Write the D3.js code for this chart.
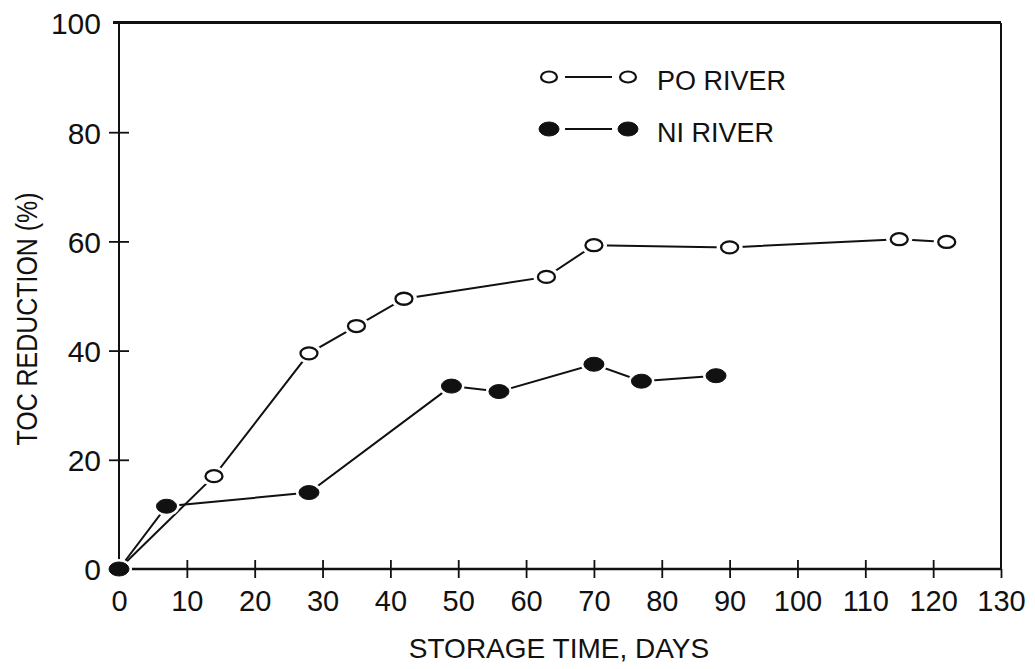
<!DOCTYPE html>
<html>
<head>
<meta charset="utf-8">
<script src="https://cdn.jsdelivr.net/npm/d3@7"></script>
<style>
  html, body { margin: 0; padding: 0; background: #fff; }
  svg { display: block; }
  text { font-family: "Liberation Sans", Arial, sans-serif; fill: #111; }
</style>
</head>
<body>
<svg id="chart" width="1035" height="669"></svg>
<script>
// ---- data ----
const poDays = [0, 14, 28, 35, 42, 63, 70, 90, 115, 122];
const poToc  = [0, 17, 39.5, 44.5, 49.5, 53.5, 59.3, 58.9, 60.4, 59.9];
const niDays = [0, 7, 28, 49, 56, 70, 77, 88];
const niToc  = [0, 11.5, 14, 33.5, 32.5, 37.5, 34.4, 35.4];
const xTicks = [0, 10, 20, 30, 40, 50, 60, 70, 80, 90, 100, 110, 120, 130];
const yTicks = [0, 20, 40, 60, 80, 100];
const seriesNames = ["PO RIVER", "NI RIVER"];
const xTitle = "STORAGE TIME, DAYS";
const yTitle = "TOC REDUCTION (%)";

// ---- layout ----
const L = 119, R = 1001, T = 23, B = 569;
const svg = d3.select("#chart");
const x = d3.scaleLinear().domain([0, 130]).range([L, R]);
const y = d3.scaleLinear().domain([0, 100]).range([B, T]);
const ink = "#111";

// frame
svg.append("line").attr("x1", L - 6).attr("x2", R).attr("y1", T - 0.5).attr("y2", T - 0.5)
  .attr("stroke", ink).attr("stroke-width", 2.8);
svg.append("line").attr("x1", R).attr("x2", R).attr("y1", T).attr("y2", B)
  .attr("stroke", ink).attr("stroke-width", 2);
svg.append("line").attr("x1", L).attr("x2", L).attr("y1", T).attr("y2", B)
  .attr("stroke", ink).attr("stroke-width", 2);
svg.append("line").attr("x1", L).attr("x2", R).attr("y1", B).attr("y2", B)
  .attr("stroke", ink).attr("stroke-width", 2.4);

// x axis
const gx = svg.append("g").attr("transform", `translate(0,${B})`)
  .call(d3.axisBottom(x).tickValues(xTicks).tickSize(9).tickFormat(d3.format("d")));
gx.select(".domain").remove();
gx.selectAll(".tick line").attr("stroke", ink).attr("stroke-width", 1.8)
  .attr("y1", d => d === 130 ? 0 : -9).attr("y2", 9);
gx.selectAll(".tick text").attr("y", 21).attr("dy", "0.71em")
  .style("font-size", "29px").attr("fill", ink);

// y axis
const gy = svg.append("g").attr("transform", `translate(${L},0)`)
  .call(d3.axisLeft(y).tickValues(yTicks).tickSize(10).tickFormat(d3.format("d")));
gy.select(".domain").remove();
gy.selectAll(".tick line").attr("stroke", ink).attr("stroke-width", 1.8)
  .attr("x1", d => d === 100 ? 0 : 10).attr("x2", -10)
  .attr("opacity", d => d === 100 ? 0 : 1);
gy.selectAll(".tick text").attr("x", -18).attr("dy", "0.36em")
  .style("font-size", "30px").attr("fill", ink);

// titles
svg.append("text").attr("x", 559).attr("y", 658).attr("text-anchor", "middle")
  .style("font-size", "28px").text(xTitle);
svg.append("text").attr("transform", "translate(37,319) rotate(-90)")
  .attr("text-anchor", "middle").style("font-size", "29px")
  .attr("textLength", 253).attr("lengthAdjust", "spacingAndGlyphs")
  .text(yTitle);

// lines
const line = d3.line().x(d => x(d[0])).y(d => y(d[1]));
const po = poDays.map((d, i) => [d, poToc[i]]);
const ni = niDays.map((d, i) => [d, niToc[i]]);
svg.append("path").datum(po).attr("d", line).attr("fill", "none")
  .attr("stroke", ink).attr("stroke-width", 2);
svg.append("path").datum(ni).attr("d", line).attr("fill", "none")
  .attr("stroke", ink).attr("stroke-width", 2);

// halos + markers
function markers(data, filled) {
  const g = svg.append("g");
  g.selectAll("ellipse.h").data(data).join("ellipse").attr("class", "h")
    .attr("cx", d => x(d[0])).attr("cy", d => y(d[1]))
    .attr("rx", 13).attr("ry", 10).attr("fill", "#fff");
  g.selectAll("ellipse.m").data(data).join("ellipse").attr("class", "m")
    .attr("cx", d => x(d[0])).attr("cy", d => y(d[1]))
    .attr("rx", filled ? 10 : 8.5).attr("ry", filled ? 7 : 6)
    .attr("fill", filled ? ink : "#fff").attr("stroke", ink).attr("stroke-width", filled ? 1 : 2.3);
}
markers(po.slice(1), false);
markers(ni, true);

// legend
const legend = [
  { name: seriesNames[0], filled: false, yy: 77 },
  { name: seriesNames[1], filled: true, yy: 129 }
];
legend.forEach(l => {
  svg.append("line").attr("x1", 565).attr("x2", 612).attr("y1", l.yy).attr("y2", l.yy)
    .attr("stroke", ink).attr("stroke-width", 2);
  [549, 628].forEach(cx => {
    svg.append("ellipse").attr("cx", cx).attr("cy", l.yy)
      .attr("rx", l.filled ? 10 : 8).attr("ry", l.filled ? 7 : 5.5)
      .attr("fill", l.filled ? ink : "#fff").attr("stroke", ink)
      .attr("stroke-width", l.filled ? 1 : 2.2);
  });
  svg.append("text").attr("x", 657).attr("y", l.yy + 13)
    .style("font-size", "27px").text(l.name);
});
</script>
</body>
</html>
